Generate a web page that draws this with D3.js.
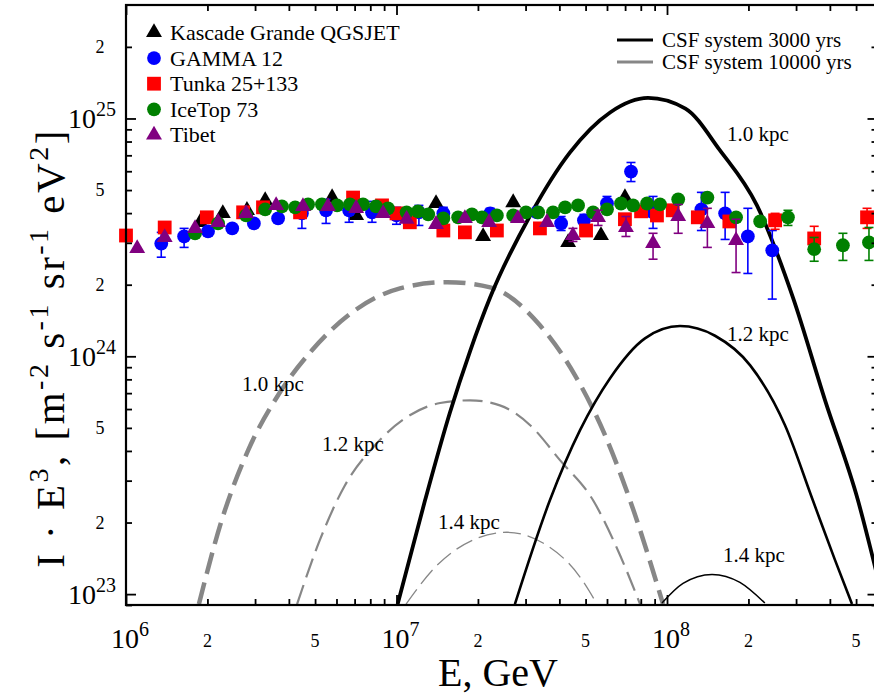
<!DOCTYPE html>
<html><head><meta charset="utf-8">
<script src="https://cdn.jsdelivr.net/npm/d3@7/dist/d3.min.js"></script>
<style>
body{margin:0;background:#fff}
svg{display:block}
text{font-family:"Liberation Serif","Times New Roman",serif;fill:#000}
</style></head>
<body><svg id="chart" width="874" height="694"></svg>
<script>
// ---------------- data (E in GeV, I·E^3 in m^-2 s^-1 sr^-1 eV^2) ----------------
const xMajorTicks = [1e6, 1e7, 1e8];
const xMajorLabels = ["6", "7", "8"];
const xMinorLabelTicks = [2e6, 5e6, 2e7, 5e7, 2e8, 5e8];
const xMinorLabels = ["2", "5", "2", "5", "2", "5"];
const yMajorTicks = [1e23, 1e24, 1e25];
const yMajorLabels = ["23", "24", "25"];
const yMinorLabelTicks = [2e23, 5e23, 2e24, 5e24, 2e25];
const yMinorLabels = ["2", "5", "2", "5", "2"];

const kascadeE = [1.88e6, 2.28e6, 2.80e6, 3.27e6, 5.78e6, 7.09e6, 1.40e7, 2.09e7, 2.70e7, 4.31e7, 5.70e7, 6.99e7];
const kascadeI = [3.66e24, 3.99e24, 4.11e24, 4.52e24, 4.65e24, 3.91e24, 4.39e24, 3.19e24, 4.43e24, 3.01e24, 3.22e24, 4.65e24];

const gammaE  = [1.35e6, 1.64e6, 2.01e6, 2.47e6, 2.97e6, 3.65e6, 4.47e6, 5.49e6, 6.68e6, 8.12e6, 1.00e7, 1.21e7, 1.49e7, 2.22e7, 3.31e7, 4.06e7, 4.93e7, 6.00e7, 7.36e7, 8.88e7, 1.34e8, 1.64e8, 1.99e8, 2.45e8];
const gammaI  = [2.98e24, 3.19e24, 3.35e24, 3.45e24, 3.62e24, 3.80e24, 3.99e24, 4.11e24, 4.11e24, 4.03e24, 3.91e24, 4.03e24, 3.99e24, 3.99e24, 4.03e24, 3.62e24, 3.73e24, 4.39e24, 5.98e24, 4.03e24, 4.15e24, 3.99e24, 3.19e24, 2.79e24];
const gammaLo = [2.61e24, 2.87e24, 3.22e24, 3.35e24, 3.52e24, 3.69e24, 3.45e24, 3.62e24, 3.66e24, 3.66e24, 3.59e24, 3.55e24, 3.70e24, 3.80e24, 3.84e24, 3.38e24, 3.55e24, 4.11e24, 5.43e24, 3.45e24, 3.38e24, 3.10e24, 2.23e24, 1.74e24];
const gammaHi = [3.32e24, 3.45e24, 3.48e24, 3.55e24, 3.73e24, 3.91e24, 4.23e24, 4.57e24, 4.43e24, 4.48e24, 4.23e24, 4.31e24, 4.23e24, 4.19e24, 4.23e24, 3.87e24, 3.95e24, 4.70e24, 6.53e24, 4.70e24, 4.89e24, 4.89e24, 4.19e24, 3.38e24];

const tunkaE = [1.00e6, 1.39e6, 1.99e6, 2.71e6, 3.21e6, 4.40e6, 6.91e6, 8.84e6, 1.00e7, 1.12e7, 1.49e7, 1.79e7, 2.35e7, 3.39e7, 5.02e7, 6.99e7, 8.02e7, 9.18e7, 1.05e8, 1.30e8, 1.70e8, 2.51e8, 3.50e8, 5.49e8];
const tunkaI = [3.22e24, 3.48e24, 3.84e24, 4.03e24, 4.23e24, 4.03e24, 4.65e24, 4.31e24, 3.99e24, 3.66e24, 3.38e24, 3.32e24, 3.38e24, 3.45e24, 3.38e24, 3.77e24, 4.07e24, 3.91e24, 4.11e24, 3.84e24, 3.69e24, 3.73e24, 3.13e24, 3.84e24];
const tunkaErrE  = [2.51e8, 3.50e8, 5.49e8];
const tunkaErrLo = [3.42e24, 2.85e24, 3.45e24];
const tunkaErrHi = [3.99e24, 3.52e24, 4.19e24];

const icetopE = [1.80e6, 2.19e6, 2.78e6, 3.27e6, 3.77e6, 4.22e6, 4.71e6, 5.30e6, 6.03e6, 6.73e6, 7.52e6, 8.40e6, 9.30e6, 1.09e7, 1.20e7, 1.31e7, 1.49e7, 1.69e7, 1.90e7, 2.07e7, 2.35e7, 2.70e7, 3.01e7, 3.34e7, 3.79e7, 4.20e7, 4.69e7, 5.33e7, 6.00e7, 6.76e7, 7.49e7, 8.44e7, 9.42e7, 1.10e8, 1.41e8, 1.80e8, 2.21e8, 2.80e8, 3.50e8, 4.47e8, 5.58e8];
const icetopI = [3.29e24, 3.62e24, 3.91e24, 4.15e24, 4.27e24, 4.23e24, 4.35e24, 4.35e24, 4.31e24, 4.35e24, 4.35e24, 4.27e24, 4.19e24, 4.03e24, 4.07e24, 3.95e24, 3.80e24, 3.84e24, 3.95e24, 3.84e24, 3.91e24, 3.91e24, 4.03e24, 4.03e24, 4.03e24, 4.23e24, 4.31e24, 4.03e24, 4.15e24, 4.39e24, 4.31e24, 4.39e24, 4.35e24, 4.57e24, 4.65e24, 3.84e24, 3.69e24, 3.84e24, 2.82e24, 2.93e24, 3.01e24];
const icetopErrE  = [2.80e8, 3.50e8, 4.47e8, 5.58e8];
const icetopErrLo = [3.55e24, 2.51e24, 2.53e24, 2.53e24];
const icetopErrHi = [4.11e24, 3.16e24, 3.29e24, 3.48e24];

const tibetE = [1.10e6, 1.39e6, 1.80e6, 2.19e6, 2.78e6, 3.59e6, 4.51e6, 5.58e6, 7.09e6, 8.92e6, 1.09e7, 1.40e7, 1.79e7, 2.20e7, 2.81e7, 3.60e7, 4.49e7, 5.56e7, 7.05e7, 8.88e7, 1.10e8, 1.41e8, 1.80e8];
const tibetI = [2.84e24, 3.16e24, 3.45e24, 3.66e24, 3.99e24, 4.31e24, 4.27e24, 4.27e24, 4.19e24, 3.99e24, 3.77e24, 3.59e24, 3.80e24, 3.66e24, 3.80e24, 3.66e24, 3.22e24, 3.84e24, 3.48e24, 2.98e24, 3.87e24, 3.62e24, 3.07e24];
const tibetErrE  = [4.49e7, 5.56e7, 7.05e7, 8.88e7, 1.10e8, 1.41e8, 1.80e8];
const tibetErrLo = [3.04e24, 3.55e24, 3.19e24, 2.56e24, 3.29e24, 2.87e24, 2.25e24];
const tibetErrHi = [3.45e24, 4.11e24, 3.87e24, 3.29e24, 4.35e24, 4.19e24, 3.77e24];

// CSF system 3000 yrs (black solid)
const csf3000_10E = [1.01e7, 1.275e7, 1.577e7, 1.87e7, 2.22e7, 3.12e7, 4.38e7, 6.16e7, 8.51e7, 1.17e8, 1.57e8, 2.15e8, 2.92e8, 3.84e8, 5.08e8, 5.92e8];
const csf3000_10I = [9.08e22, 2.48e23, 5.82e23, 1.05e24, 1.77e24, 3.91e24, 7.20e24, 1.06e25, 1.22e25, 1.10e25, 7.34e24, 4.31e24, 1.77e24, 6.53e23, 2.48e23, 1.26e23];
const csf3000_12E = [2.74e7, 3.69e7, 4.77e7, 6.16e7, 8.29e7, 1.117e8, 1.505e8, 2.03e8, 2.73e8, 3.46e8, 4.18e8, 4.83e8];
const csf3000_12I = [9.08e22, 2.48e23, 4.89e23, 8.09e23, 1.19e24, 1.34e24, 1.22e24, 9.16e23, 5.13e23, 2.48e23, 1.39e23, 9.08e22];
const csf3000_14E = [9.58e7, 1.146e8, 1.467e8, 1.86e8, 2.30e8];
const csf3000_14I = [9.17e22, 1.11e23, 1.21e23, 1.12e23, 9.17e22];
// CSF system 10000 yrs (grey dashed)
const csf10000_10E = [1.86e6, 2.26e6, 2.83e6, 3.65e6, 4.87e6, 7.02e6, 1.03e7, 1.54e7, 2.22e7, 3.39e7, 4.57e7, 5.90e7, 7.30e7, 9.67e7];
const csf10000_10I = [9.08e22, 2.05e23, 4.03e23, 6.86e23, 1.06e24, 1.56e24, 1.93e24, 2.05e24, 1.95e24, 1.35e24, 8.32e23, 4.66e23, 2.48e23, 9.08e22];
const csf10000_12E = [4.29e6, 5.21e6, 6.45e6, 8.33e6, 1.12e7, 1.45e7, 1.87e7, 2.41e7, 3.12e7, 4.02e7, 5.33e7, 6.70e7, 7.95e7];
const csf10000_12I = [9.08e22, 1.69e23, 2.87e23, 4.23e23, 5.65e23, 6.36e23, 6.53e23, 6.22e23, 5.13e23, 3.66e23, 2.48e23, 1.46e23, 9.08e22];
const csf10000_14E = [1.085e7, 1.41e7, 1.92e7, 2.56e7, 3.48e7, 4.77e7, 5.51e7];
const csf10000_14I = [9.08e22, 1.32e23, 1.69e23, 1.82e23, 1.64e23, 1.18e23, 9.08e22];

const legendNames = ["Kascade Grande QGSJET", "GAMMA 12", "Tunka 25+133", "IceTop 73", "Tibet"];
const lineLegend = ["CSF system 3000 yrs", "CSF system 10000 yrs"];

// ---------------- layout ----------------
const L = 126, R = 877.5, T = 5, B = 605;
const svg = d3.select("#chart");
const x = d3.scaleLog().domain([1e6, 6e8]).range([L, R]);
const y = d3.scaleLog().domain([9e22, 3e25]).range([B, T]);

svg.append("defs").append("clipPath").attr("id", "clip")
  .append("rect").attr("x", L).attr("y", T).attr("width", R - L).attr("height", B - T);

// ---------------- curves ----------------
const line = d3.line().x(d => x(d[0])).y(d => y(d[1])).curve(d3.curveMonotoneX);
const zip = (a, b) => a.map((v, i) => [v, b[i]]);
const curves = [
  {E: csf10000_10E, I: csf10000_10I, color: "#878787", w: 4.5, dash: "22,9"},
  {E: csf10000_12E, I: csf10000_12I, color: "#878787", w: 2.2, dash: "20,8"},
  {E: csf10000_14E, I: csf10000_14I, color: "#878787", w: 1.3, dash: "18,7"},
  {E: csf3000_10E, I: csf3000_10I, color: "#000", w: 3.8, dash: null},
  {E: csf3000_12E, I: csf3000_12I, color: "#000", w: 2.6, dash: null},
  {E: csf3000_14E, I: csf3000_14I, color: "#000", w: 1.5, dash: null}
];
const gCurves = svg.append("g").attr("clip-path", "url(#clip)");
curves.forEach(c => {
  gCurves.append("path").attr("d", line(zip(c.E, c.I)))
    .attr("fill", "none").attr("stroke", c.color).attr("stroke-width", c.w)
    .attr("stroke-dasharray", c.dash);
});

// ---------------- data points ----------------
const gPts = svg.append("g");
function errBars(E, lo, hi, color) {
  E.forEach((e, i) => {
    const xx = x(e);
    gPts.append("line").attr("x1", xx).attr("x2", xx).attr("y1", y(lo[i])).attr("y2", y(hi[i]))
      .attr("stroke", color).attr("stroke-width", 1.6);
    [lo[i], hi[i]].forEach(v => gPts.append("line").attr("x1", xx - 4.5).attr("x2", xx + 4.5)
      .attr("y1", y(v)).attr("y2", y(v)).attr("stroke", color).attr("stroke-width", 1.6));
  });
}
const triSym = d3.symbol().type(d3.symbolTriangle).size(110);
function marker(g, type, cx, cy, color) {
  if (type === "circle") g.append("circle").attr("cx", cx).attr("cy", cy).attr("r", 6.9).attr("fill", color);
  else if (type === "square") g.append("rect").attr("x", cx - 6.9).attr("y", cy - 6.9).attr("width", 13.8).attr("height", 13.8).attr("fill", color);
  else g.append("path").attr("d", triSym()).attr("transform", `translate(${cx},${cy})`).attr("fill", color);
}
function points(E, I, type, color) {
  E.forEach((e, i) => marker(gPts, type, x(e), y(I[i]), color));
}
points(kascadeE, kascadeI, "tri", "#000");
errBars(gammaE, gammaLo, gammaHi, "#0000ff");
points(gammaE, gammaI, "circle", "#0000ff");
errBars(tunkaErrE, tunkaErrLo, tunkaErrHi, "#ff0000");
points(tunkaE, tunkaI, "square", "#ff0000");
errBars(icetopErrE, icetopErrLo, icetopErrHi, "#008000");
points(icetopE, icetopI, "circle", "#008000");
errBars(tibetErrE, tibetErrLo, tibetErrHi, "#800080");
points(tibetE, tibetI, "tri", "#800080");

// ---------------- axes ----------------
const xMinorAll = [], yMinorAll = [];
[1e6, 1e7, 1e8].forEach(d => { for (let k = 2; k <= 9; k++) if (d * k <= 6e8) xMinorAll.push(d * k); });
[1e22, 1e23, 1e24, 1e25].forEach(d => { for (let k = 1; k <= 9; k++) { const v = d * k; if (v >= 9e22 && v <= 3e25 && !yMajorTicks.includes(v)) yMinorAll.push(v); } });

function drawAxis(axisFn, scale, vals, size, transform) {
  const g = svg.append("g").attr("transform", transform)
    .call(axisFn(scale).tickValues(vals).tickSizeInner(size).tickSizeOuter(0).tickFormat(""));
  g.select(".domain").remove();
  g.selectAll(".tick line").attr("stroke", "#000").attr("stroke-width", 1.8);
}
drawAxis(d3.axisBottom, x, xMajorTicks, -10, `translate(0,${B})`);
drawAxis(d3.axisBottom, x, xMinorAll, -6, `translate(0,${B})`);
drawAxis(d3.axisTop, x, xMajorTicks, -10, `translate(0,${T})`);
drawAxis(d3.axisTop, x, xMinorAll, -6, `translate(0,${T})`);
drawAxis(d3.axisLeft, y, yMajorTicks, -10, `translate(${L},0)`);
drawAxis(d3.axisLeft, y, yMinorAll, -6, `translate(${L},0)`);
drawAxis(d3.axisRight, y, yMajorTicks, -10, `translate(${R},0)`);
drawAxis(d3.axisRight, y, yMinorAll, -6, `translate(${R},0)`);

svg.append("rect").attr("x", L).attr("y", T).attr("width", R - L).attr("height", B - T)
  .attr("fill", "none").attr("stroke", "#000").attr("stroke-width", 2.2);

// tick labels
xMajorTicks.forEach((v, i) => {
  const t = svg.append("text").attr("x", x(v) + 4).attr("y", 648).attr("text-anchor", "middle").attr("font-size", 28);
  t.append("tspan").text("10");
  t.append("tspan").attr("dy", -12).attr("font-size", 20).text(xMajorLabels[i]);
});
xMinorLabelTicks.forEach((v, i) => {
  svg.append("text").attr("x", x(v)).attr("y", 647).attr("text-anchor", "middle").attr("font-size", 18).text(xMinorLabels[i]);
});
yMajorTicks.forEach((v, i) => {
  const t = svg.append("text").attr("x", 116).attr("y", y(v) + 10).attr("text-anchor", "end").attr("font-size", 28);
  t.append("tspan").text("10");
  t.append("tspan").attr("dy", -12).attr("font-size", 20).text(yMajorLabels[i]);
});
yMinorLabelTicks.forEach((v, i) => {
  svg.append("text").attr("x", 100).attr("y", y(v) + 6).attr("text-anchor", "middle").attr("font-size", 18).text(yMinorLabels[i]);
});

// axis titles
svg.append("text").attr("x", 498).attr("y", 686).attr("text-anchor", "middle").attr("font-size", 40).text("E, GeV");
const yt = svg.append("text").attr("transform", "translate(64,348) rotate(-90)").attr("text-anchor", "middle")
  .attr("font-size", 41).attr("letter-spacing", 2.5);
const parts = [["I · E", 0], ["3", 1], [", [m", 0], ["-2", 1], [" s", 0], ["-1", 1], [" sr", 0], ["-1", 1], [" eV", 0], ["2", 1], ["]", 0]];
let up = false;
parts.forEach(([s, sup]) => {
  const ts = yt.append("tspan").text(s);
  if (sup && !up) { ts.attr("dy", -16).attr("font-size", 28); up = true; }
  else if (!sup && up) { ts.attr("dy", 16); up = false; }
});

// curve labels
const curveLabels = [
  {t: "1.0 kpc", x: 727, y: 141}, {t: "1.2 kpc", x: 727, y: 341}, {t: "1.4 kpc", x: 723, y: 562},
  {t: "1.0 kpc", x: 242, y: 391}, {t: "1.2 kpc", x: 322, y: 451}, {t: "1.4 kpc", x: 438, y: 529}
];
curveLabels.forEach(d => svg.append("text").attr("x", d.x).attr("y", d.y).attr("font-size", 21).text(d.t));

// legends
const types = ["tri", "circle", "square", "circle", "tri"];
const colors = ["#000", "#0000ff", "#ff0000", "#008000", "#800080"];
const gLeg = svg.append("g");
legendNames.forEach((n, i) => {
  const cy = 32.5 + i * 25.6;
  marker(gLeg, types[i], 154, cy, colors[i]);
  gLeg.append("text").attr("x", 170).attr("y", cy + 7.5).attr("font-size", 22).text(n);
});
const lineCols = ["#000", "#878787"];
lineLegend.forEach((n, i) => {
  const cy = 40 + i * 22;
  gLeg.append("line").attr("x1", 617).attr("x2", 653).attr("y1", cy).attr("y2", cy).attr("stroke", lineCols[i]).attr("stroke-width", 3);
  gLeg.append("text").attr("x", 662).attr("y", cy + 6.5).attr("font-size", 21).text(n);
});
</script></body></html>
